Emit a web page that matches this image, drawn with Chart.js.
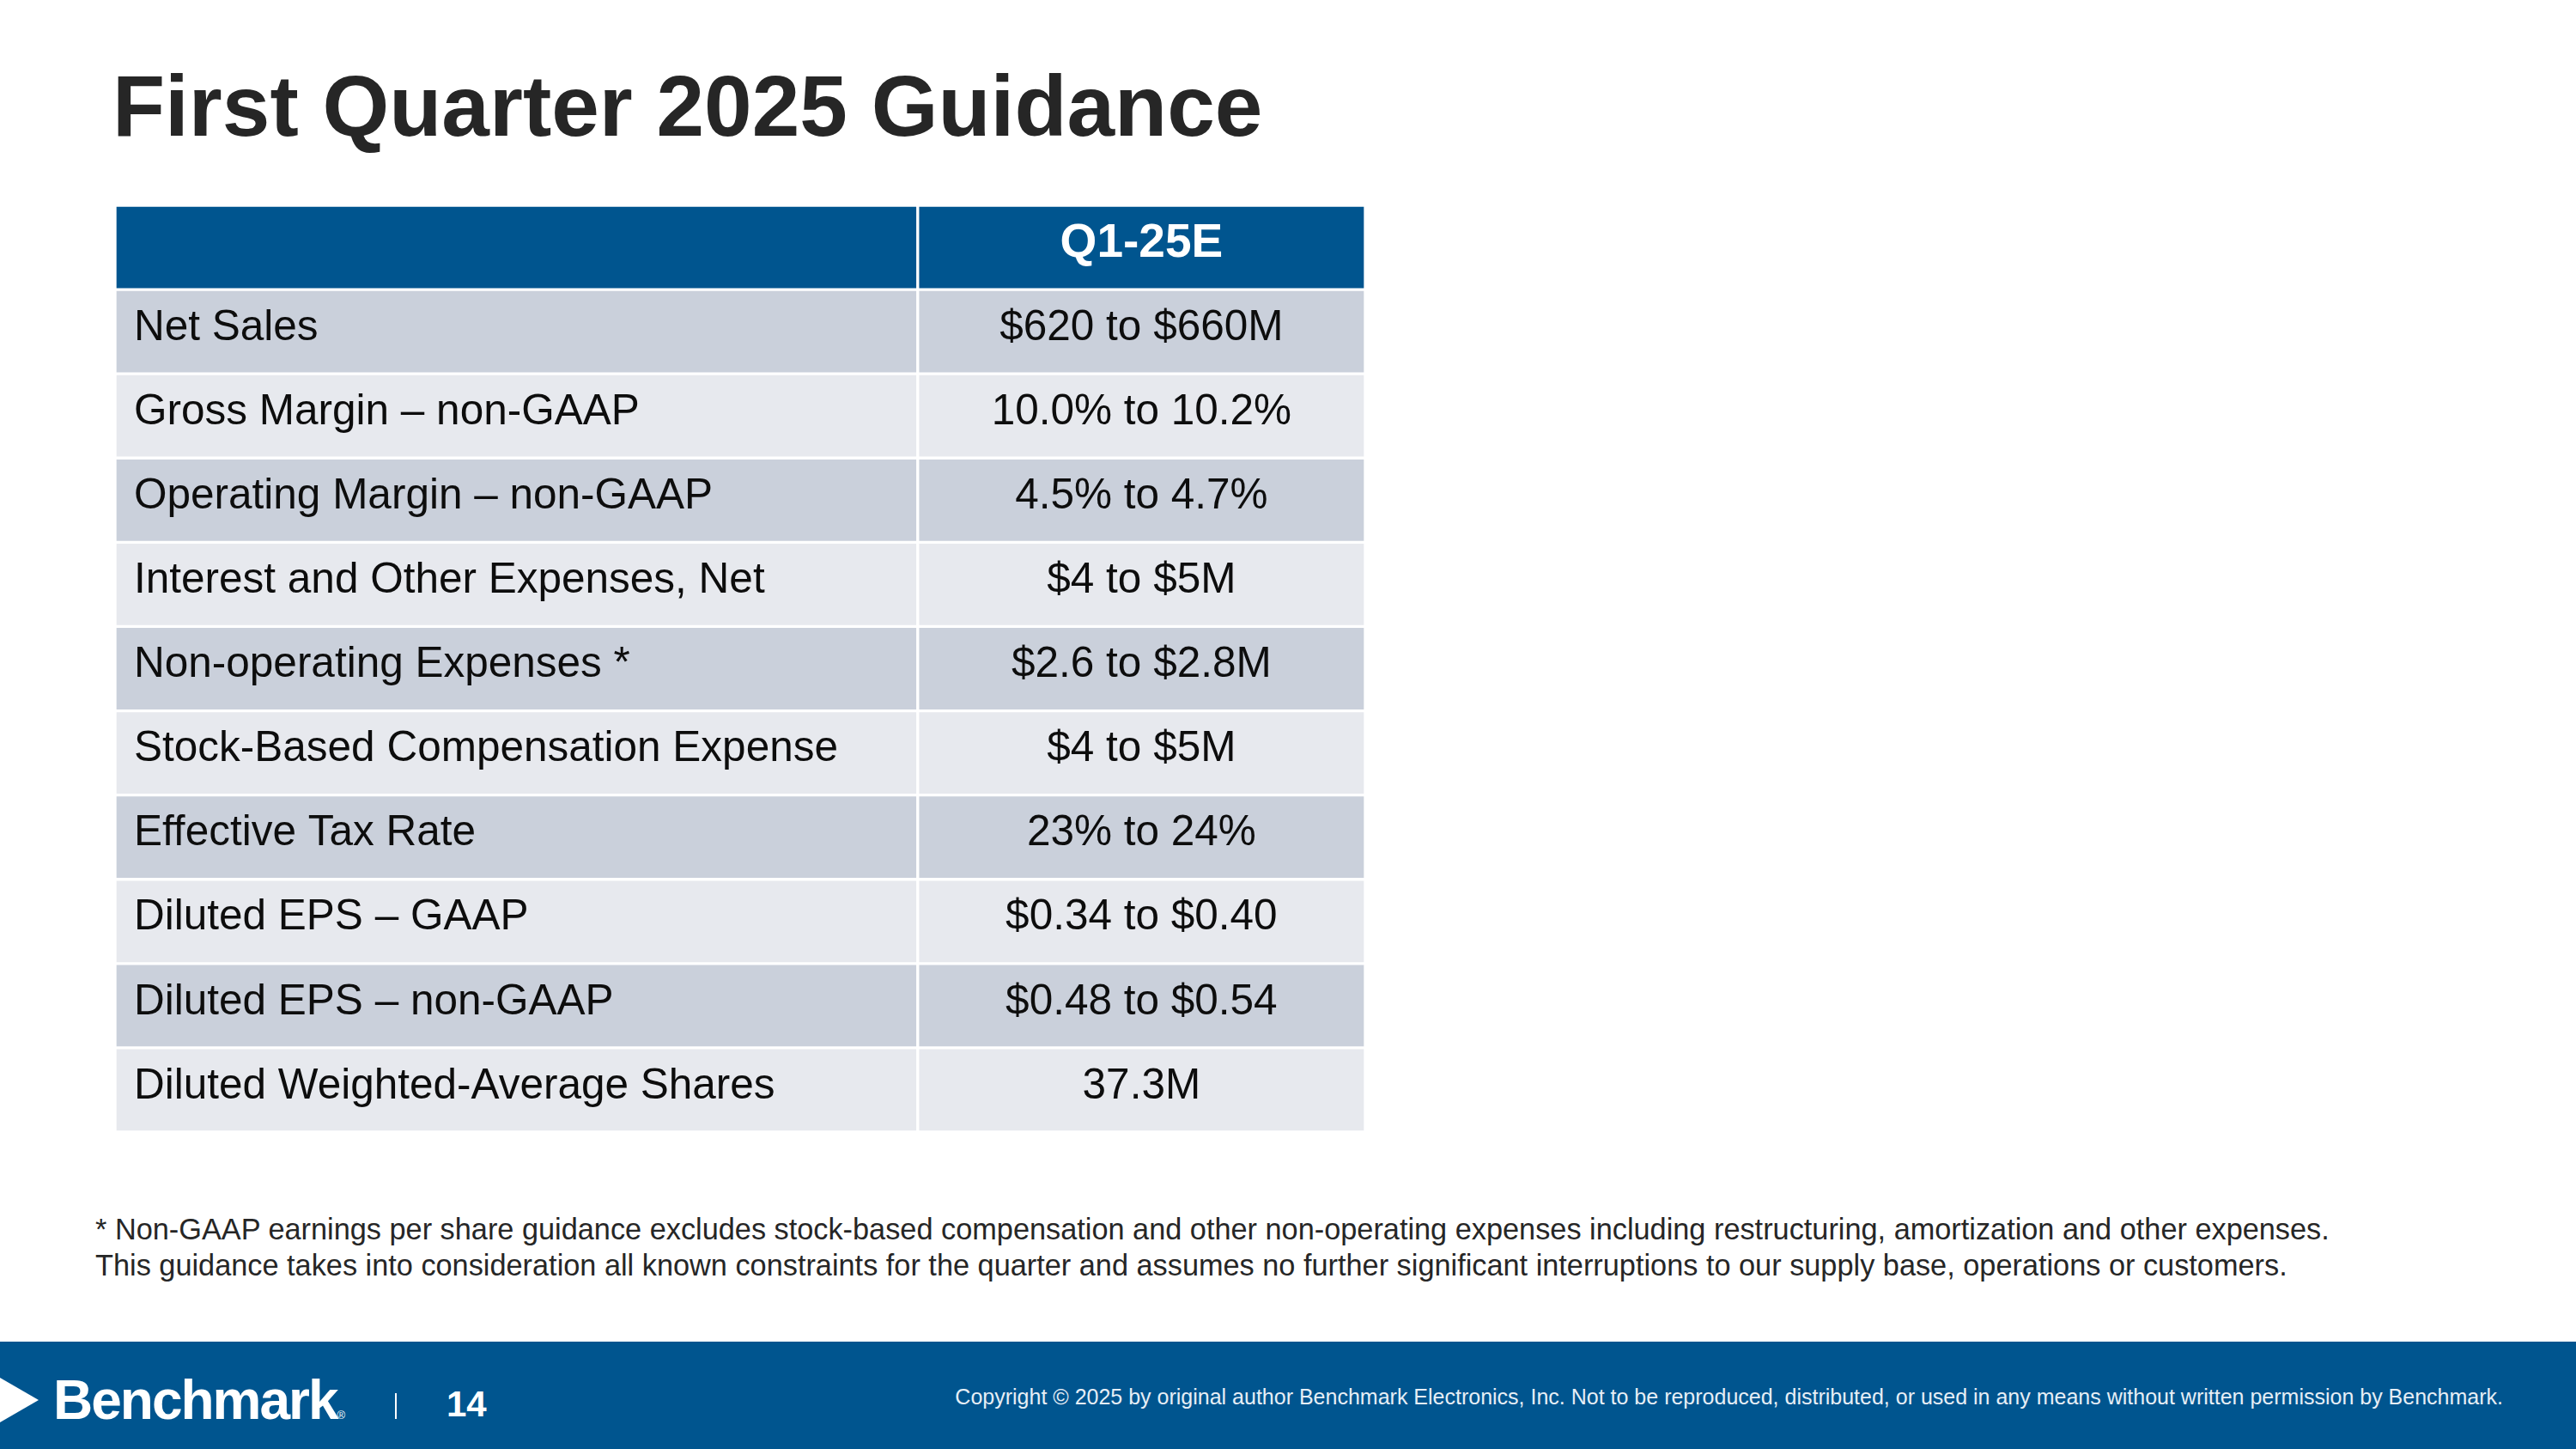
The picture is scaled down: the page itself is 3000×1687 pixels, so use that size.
<!DOCTYPE html>
<html>
<head>
<meta charset="utf-8">
<style>
  html, body { margin: 0; padding: 0; background: #fff; }
  #page { position: relative; width: 3000px; height: 1687px; overflow: hidden; font-family: "Liberation Sans", Arial, sans-serif; }
  #title { position: absolute; left: 131px; top: 73px; font-size: 100px; line-height: 1; font-weight: bold; color: #262626; white-space: nowrap; }
  #tableBox { position: absolute; left: 134px; top: 239px; width: 1456px; height: 1079px; }
  #note { position: absolute; left: 111px; top: 1410px; font-size: 34.3px; line-height: 42px; color: #262626; white-space: nowrap; }
  #footer { position: absolute; left: 0; top: 1562px; width: 3000px; height: 125px; background: #00558f; }
  #arrow { position: absolute; left: 0; top: 42px; width: 0; height: 0; border-top: 26px solid transparent; border-bottom: 26px solid transparent; border-left: 45px solid #fff; }
  #logo { position: absolute; left: 62px; top: 36px; font-size: 64px; line-height: 1; font-weight: bold; color: #fff; letter-spacing: -2px; white-space: nowrap; }
  #logo span { font-size: 13px; letter-spacing: 0; font-weight: normal; }
  #sep { position: absolute; left: 460px; top: 60px; width: 2px; height: 30px; background: #fff; }
  #pagenum { position: absolute; left: 520px; top: 52px; font-size: 42px; line-height: 1; font-weight: bold; color: #fff; }
  #copy { position: absolute; right: 85px; top: 52px; font-size: 25px; line-height: 1; color: #e6eef6; white-space: nowrap; }
</style>
</head>
<body>
<div id="page">
  <div id="title">First Quarter 2025 Guidance</div>
  <div id="tableBox"><canvas id="myChart"></canvas></div>
  <div id="note">* Non-GAAP earnings per share guidance excludes stock-based compensation and other non-operating expenses including restructuring, amortization and other expenses.<br>This guidance takes into consideration all known constraints for the quarter and assumes no further significant interruptions to our supply base, operations or customers.</div>
  <div id="footer">
    <div id="arrow"></div>
    <div id="logo">Benchmark<span>®</span></div>
    <div id="sep"></div>
    <div id="pagenum">14</div>
    <div id="copy">Copyright © 2025 by original author Benchmark Electronics, Inc. Not to be reproduced, distributed, or used in any means without written permission by Benchmark.</div>
  </div>
</div>

<script src="https://cdn.jsdelivr.net/npm/chart.js"></script>
<script>
    // table data
    const headerLabel = 'Q1-25E';
    const rowLabels = [
        'Net Sales',
        'Gross Margin – non-GAAP',
        'Operating Margin – non-GAAP',
        'Interest and Other Expenses, Net',
        'Non-operating Expenses *',
        'Stock-Based Compensation Expense',
        'Effective Tax Rate',
        'Diluted EPS – GAAP',
        'Diluted EPS – non-GAAP',
        'Diluted Weighted-Average Shares'
    ];
    const rowValues = [
        '$620 to $660M',
        '10.0% to 10.2%',
        '4.5% to 4.7%',
        '$4 to $5M',
        '$2.6 to $2.8M',
        '$4 to $5M',
        '23% to 24%',
        '$0.34 to $0.40',
        '$0.48 to $0.54',
        '37.3M'
    ];

    const split = 0.642; // where the label column ends
    const headBlue = '#00558f';
    const darkRow = '#cad0db';
    const lightRow = '#e7e9ee';

    const categories = ['header'].concat(rowLabels);
    const cellColor = (i) => i === 0 ? headBlue : (i % 2 === 1 ? darkRow : lightRow);

    const tableText = {
        id: 'tableText',
        afterDatasetsDraw(chart) {
            const ctx = chart.ctx;
            const x = chart.scales.x;
            const y = chart.scales.y;
            ctx.save();
            categories.forEach((c, i) => {
                const cy = y.getPixelForValue(i) - 4;
                ctx.textBaseline = 'middle';
                if (i === 0) {
                    ctx.font = 'bold 55px "Liberation Sans", Arial, sans-serif';
                    ctx.fillStyle = '#ffffff';
                    ctx.textAlign = 'center';
                    ctx.fillText(headerLabel, x.getPixelForValue((split + 1) / 2), cy);
                    return;
                }
                ctx.font = '49.5px "Liberation Sans", Arial, sans-serif';
                ctx.fillStyle = '#0d0d0d';
                ctx.textAlign = 'left';
                ctx.fillText(rowLabels[i - 1], x.getPixelForValue(0) + 22, cy);
                ctx.textAlign = 'center';
                ctx.fillText(rowValues[i - 1], x.getPixelForValue((split + 1) / 2), cy);
            });
            ctx.restore();
        }
    };

    const ctx = document.getElementById('myChart').getContext('2d');
    const myChart = new Chart(ctx, {
        type: 'bar',
        data: {
            labels: categories,
            datasets: [{
                label: 'labels',
                data: categories.map(() => [0, split]),
                backgroundColor: categories.map((c, i) => cellColor(i)),
                borderColor: '#ffffff',
                borderWidth: 2,
                borderSkipped: false,
                grouped: false,
                barPercentage: 1,
                categoryPercentage: 1
            }, {
                label: 'values',
                data: categories.map(() => [split, 1]),
                backgroundColor: categories.map((c, i) => cellColor(i)),
                borderColor: '#ffffff',
                borderWidth: 2,
                borderSkipped: false,
                grouped: false,
                barPercentage: 1,
                categoryPercentage: 1
            }]
        },
        options: {
            indexAxis: 'y',
            responsive: true,
            maintainAspectRatio: false,
            animation: false,
            events: [],
            layout: { padding: 0 },
            plugins: {
                legend: { display: false },
                tooltip: { enabled: false }
            },
            scales: {
                x: { type: 'linear', min: 0, max: 1, display: false },
                y: { type: 'category', display: false }
            }
        },
        plugins: [tableText]
    });
</script>
</body>
</html>
